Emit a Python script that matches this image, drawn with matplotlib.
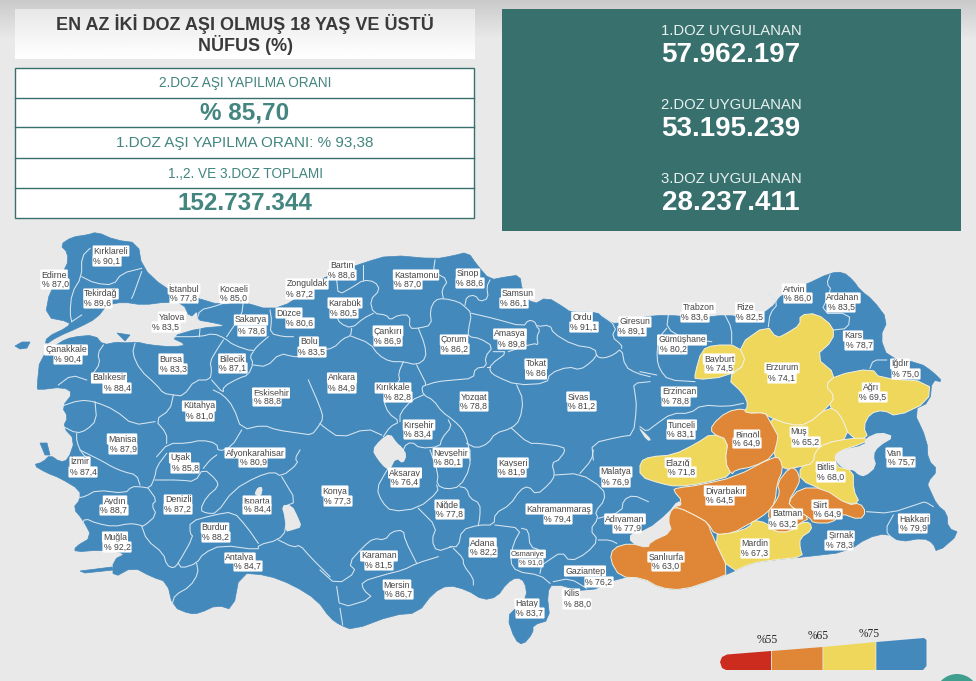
import matplotlib
import numpy as np

matplotlib.use("Agg")
import matplotlib.pyplot as plt  # noqa: E402
from matplotlib.patches import Polygon, Rectangle, Circle  # noqa: E402

plt.rcParams["font.family"] = ["Liberation Sans", "DejaVu Sans"]

# data
provinces = ["Kırklareli", "Edirne", "Tekirdağ", "İstanbul", "Kocaeli", "Zonguldak", "Bartın", "Kastamonu", "Sinop",
             "Samsun", "Yalova", "Sakarya", "Düzce", "Karabük", "Çankırı", "Bolu", "Çorum", "Amasya", "Ordu", "Giresun",
             "Trabzon", "Rize", "Artvin", "Ardahan", "Kars", "Iğdır", "Gümüşhane", "Bayburt", "Erzurum", "Ağrı",
             "Erzincan", "Tunceli", "Bingöl", "Muş", "Bitlis", "Van", "Elazığ", "Malatya", "Tokat", "Yozgat",
             "Sivas", "Ankara", "Kırıkkale", "Kırşehir", "Nevşehir", "Balıkesir", "Çanakkale", "Bursa", "Bilecik",
             "Eskişehir", "Kütahya", "Manisa", "Uşak", "Afyonkarahisar", "İzmir", "Aydın", "Denizli", "Isparta",
             "Burdur", "Muğla", "Antalya", "Konya", "Aksaray", "Niğde", "Kayseri", "Kahramanmaraş", "Adıyaman",
             "Adana", "Osmaniye", "Karaman", "Mersin", "Gaziantep", "Kilis", "Hatay", "Şanlıurfa", "Diyarbakır",
             "Batman", "Siirt", "Mardin", "Şırnak", "Hakkari"]
rates = [90.1, 87.0, 89.6, 77.8, 85.0, 87.2, 88.6, 87.0, 88.6,
         86.1, 83.5, 78.6, 80.6, 80.5, 86.9, 83.5, 86.2, 89.8, 91.1, 89.1,
         83.6, 82.5, 86.0, 83.5, 78.7, 75.0, 80.2, 74.5, 74.1, 69.5,
         78.8, 83.1, 64.9, 65.2, 68.0, 75.7, 71.8, 76.9, 86, 78.8,
         81.2, 84.9, 82.8, 83.4, 80.1, 88.4, 90.4, 83.3, 87.1,
         88.8, 81.0, 87.9, 85.8, 80.9, 87.4, 88.7, 87.2, 84.4,
         88.2, 92.2, 84.7, 77.3, 76.4, 77.8, 81.9, 79.4, 77.9,
         82.2, 91.0, 81.5, 86.7, 76.2, 88.0, 83.7, 63.0, 64.5,
         63.2, 64.9, 67.3, 78.3, 79.9]
limits = [55, 65, 75]
colors = ["#CC2C1E", "#DF8637", "#EFD75B", "#4489BC"]

header_title = "EN AZ İKİ DOZ AŞI OLMUŞ 18 YAŞ VE ÜSTÜ\nNÜFUS (%)"
table_rows = ["2.DOZ AŞI YAPILMA ORANI", "% 85,70", "1.DOZ AŞI YAPILMA ORANI: % 93,38", "1.,2. VE 3.DOZ TOPLAMI", "152.737.344"]
dose_names = ["1.DOZ UYGULANAN", "2.DOZ UYGULANAN", "3.DOZ UYGULANAN"]
dose_totals = ["57.962.197", "53.195.239", "28.237.411"]

# label centres in pixels, name then value
label_pos = [(111, 251, 107, 261), (54, 275, 55, 284), (101, 294, 98, 303), (184, 289, 184, 298), (234, 289, 234, 298),
             (307, 284, 300, 294), (342, 266, 342, 275), (416, 275, 408, 284), (468, 274, 470, 283), (518, 294, 514, 303),
             (172, 317, 166, 327), (251, 320, 252, 331), (289, 313, 300, 323), (345, 303, 344, 313), (388, 331, 388, 341),
             (309, 342, 312, 352), (454, 340, 455, 349), (510, 334, 512, 344), (582, 317, 584, 327), (635, 322, 632, 331),
             (699, 308, 695, 317), (745, 308, 750, 317), (794, 289, 798, 298), (843, 298, 841, 307), (853, 336, 859, 345),
             (900, 364, 906, 374), (682, 340, 673, 349), (719, 359, 719, 368), (782, 368, 782, 378), (871, 388, 873, 397),
             (679, 392, 676, 401), (682, 425, 681, 434), (747, 435, 747, 443), (799, 432, 806, 442), (826, 467, 831, 477),
             (894, 453, 901, 462), (678, 463, 682, 472), (616, 472, 616, 482), (536, 364, 536, 374), (474, 397, 474, 406),
             (578, 397, 582, 406), (342, 378, 342, 388), (393, 388, 398, 397), (419, 425, 418, 434), (451, 453, 448, 462),
             (109, 378, 117, 388), (66, 350, 68, 359), (171, 359, 173, 369), (232, 359, 233, 368), (271, 393, 267, 401),
             (199, 406, 200, 416), (122, 439, 123, 449), (180, 458, 185, 468), (255, 453, 253, 462), (80, 462, 83, 472),
             (115, 501, 114, 510), (178, 500, 178, 509), (257, 501, 257, 509), (215, 528, 216, 537), (115, 537, 117, 547),
             (240, 558, 248, 566), (335, 491, 338, 501), (405, 473, 405, 482), (447, 505, 450, 514), (513, 463, 512, 472),
             (559, 509, 558, 519), (625, 519, 627, 528), (483, 543, 483, 552), (528, 554, 531, 563), (379, 556, 379, 565),
             (397, 585, 399, 594), (585, 571, 599, 582), (571, 594, 577, 604), (527, 604, 530, 613), (666, 557, 666, 566),
             (725, 491, 720, 500), (787, 514, 783, 524), (820, 505, 828, 514), (755, 544, 755, 553), (841, 536, 839, 545),
             (914, 519, 913, 528)]


def z(ox, oy, pts):
    # points read on a 3x crop with its corner at ox, oy
    return [(ox + x / 3, oy + y / 3) for x, y in pts]


def smooth(pts, closed=False):
    # one corner cutting pass, the traced lines are too angular otherwise
    p = np.array(pts, dtype=float)
    if closed:
        nxt = np.roll(p, -1, axis=0)
        out = np.empty((2 * len(p), 2))
        out[0::2] = 0.75 * p + 0.25 * nxt
        out[1::2] = 0.25 * p + 0.75 * nxt
        return out
    a, b = p[:-1], p[1:]
    out = np.empty((2 * len(a), 2))
    out[0::2] = 0.75 * a + 0.25 * b
    out[1::2] = 0.25 * a + 0.75 * b
    return np.vstack([p[0], out, p[-1]])


outline = [(138, 243), (142, 267), (163, 287), (183, 295), (197, 298), (220, 305), (243, 302), (270, 310), (293, 302),
           (310, 285), (330, 275), (363, 263), (390, 255), (435, 259), (452, 256), (468, 252), (477, 265), (490, 280),
           (505, 277), (520, 275), (522, 290), (533, 305), (547, 297), (565, 308), (570, 312), (597, 312), (603, 318),
           (617, 325), (640, 317), (667, 315), (700, 318), (725, 315), (750, 318), (770, 310), (783, 293), (805, 285),
           (830, 273), (843, 272), (853, 280), (860, 290), (873, 300), (888, 320), (880, 337), (888, 358), (920, 363),
           (933, 372), (943, 382), (932, 380), (930, 402), (913, 410), (927, 440), (928, 460), (938, 470), (927, 483),
           (930, 490), (937, 505), (947, 513), (948, 528), (960, 533), (937, 553), (933, 543), (923, 538), (900, 542),
           (887, 533), (867, 538), (847, 552), (803, 557), (773, 560), (752, 563), (730, 573), (713, 580), (683, 590),
           (660, 588), (643, 578), (620, 577), (587, 593), (553, 583), (547, 593), (550, 620), (533, 625), (533, 633),
           (523, 645), (515, 640), (507, 617), (517, 607), (527, 597), (525, 582), (517, 577), (507, 583), (497, 597),
           (483, 600), (467, 590), (448, 585), (433, 593), (418, 613), (393, 615), (353, 630), (340, 625), (330, 618),
           (317, 600), (293, 585), (267, 575), (240, 573), (233, 610), (217, 605), (200, 613), (190, 614), (173, 607),
           (167, 582), (152, 577), (133, 567), (113, 578), (113, 560), (127, 553), (100, 550), (75, 552), (75, 547),
           (92, 537), (83, 520), (73, 508), (80, 500), (80, 490), (60, 478), (47, 473), (33, 465), (43, 462), (50, 455),
           (60, 462), (68, 460), (75, 440), (63, 427), (68, 417), (62, 407), (73, 393), (63, 387), (38, 390), (37, 387),
           (40, 357), (60, 342), (72, 337), (95, 335), (103, 345), (117, 342), (125, 343), (137, 342), (150, 345),
           (173, 347), (187, 345), (170, 337), (200, 328), (228, 326), (210, 322), (197, 320), (198, 310), (190, 318),
           (183, 303), (166, 302), (143, 305), (123, 302), (107, 305), (97, 318), (80, 327), (57, 337), (45, 345),
           (47, 337), (68, 327), (70, 322), (45, 317), (50, 290), (67, 267), (68, 253), (60, 245), (72, 237), (87, 235),
           (97, 232), (115, 240)]
islands = [[(15, 346), (22, 342), (30, 342), (27, 348), (20, 349)],
           [(117, 333), (130, 335), (125, 341)],
           [(40, 443), (47, 443), (50, 455), (45, 455)],
           [(80, 571), (112, 567), (113, 570), (85, 573)]]
lakes = [[(372, 450), (380, 440), (390, 433), (397, 443), (402, 447), (407, 455), (403, 464), (396, 458), (390, 470),
          (385, 468), (378, 460)],
         [(281, 505), (292, 505), (298, 517), (302, 527), (293, 530), (285, 532), (286, 520)],
         [(255, 492), (258, 487), (263, 487), (261, 497), (255, 495)],
         z(810, 420, [(70, 110), (90, 90), (165, 75), (165, 55), (210, 35), (255, 50), (205, 80), (190, 105), (200, 140),
                      (165, 170), (145, 165), (130, 150), (110, 150), (85, 135)]),
         [(630, 533), (647, 530), (668, 513), (678, 500), (683, 505), (672, 508), (668, 520), (672, 532), (650, 542),
          (648, 548), (630, 543)],
         [(638, 427), (643, 431), (652, 440), (647, 441)]]

# provinces below the top class, traced one by one
shapes = {
    "Erzurum": z(640, 270, [(295, 225), (380, 165), (410, 205), (440, 190), (480, 165), (480, 135), (530, 130), (580, 170), (580, 210), (525, 260), (590, 315), (555, 345), (585, 380), (565, 410), (500, 465), (450, 465), (385, 440), (375, 428), (310, 430), (325, 405), (310, 370), (260, 325), (320, 280)]),
    "Bayburt": z(640, 270, [(185, 240), (220, 225), (295, 225), (320, 280), (260, 320), (165, 330), (165, 310)]),
    "Ağrı": z(640, 270, [(590, 315), (695, 295), (720, 325), (870, 335), (865, 395), (770, 440), (730, 420), (690, 430), (670, 470), (685, 505), (630, 505), (600, 430), (565, 410), (585, 380), (555, 345)]),
    "Muş": z(640, 270, [(385, 440), (450, 465), (500, 465), (565, 410), (600, 430), (630, 505), (555, 520), (525, 545), (520, 580), (480, 590), (430, 600), (400, 560), (410, 500)]),
    "Bitlis": z(640, 270, [(525, 545), (555, 520), (630, 505), (685, 505), (670, 520), (590, 545), (585, 590), (640, 600), (640, 660), (660, 700), (610, 700), (550, 660), (480, 630), (480, 590), (520, 580)]),
    "Elazığ": z(640, 270, [(0, 575), (30, 560), (100, 555), (170, 520), (215, 490), (265, 510), (255, 575), (280, 615), (190, 640), (110, 650), (60, 640), (0, 620)]),
    "Bingöl": z(640, 270, [(215, 490), (215, 465), (260, 425), (310, 415), (320, 430), (375, 428), (385, 445), (410, 490), (415, 500), (400, 560), (340, 590), (285, 600), (275, 615), (255, 575), (265, 510)]),
    "Diyarbakır": [(677, 488), (700, 485), (735, 477), (773, 457), (780, 458), (783, 470), (777, 483), (775, 503), (767, 513), (753, 522), (747, 525), (733, 533), (715, 535), (708, 523), (698, 517), (680, 508), (672, 508), (683, 502), (673, 490)],
    "Batman": [(777, 483), (790, 467), (797, 470), (800, 480), (797, 487), (788, 502), (793, 508), (810, 518), (800, 523), (790, 532), (775, 532), (773, 526), (767, 513), (775, 503), (780, 493)],
    "Siirt": [(800, 488), (823, 488), (848, 505), (860, 503), (866, 512), (860, 520), (840, 513), (833, 523), (813, 523), (810, 518), (793, 508), (788, 502)],
    "Mardin": [(712, 535), (733, 533), (750, 527), (753, 520), (767, 523), (775, 532), (790, 532), (800, 523), (810, 522), (812, 530), (800, 538), (800, 548), (803, 557), (773, 560), (752, 563), (730, 573)],
    "Şanlıurfa": [(610, 560), (613, 548), (630, 543), (648, 548), (650, 542), (672, 532), (668, 520), (672, 508), (680, 508), (698, 517), (708, 523), (712, 535), (730, 573), (713, 580), (683, 590), (660, 588), (643, 578), (620, 577)],
}

# the other province borders
borders = [
    z(0, 230, [(270, 55), (245, 80), (245, 140), (215, 190), (210, 250), (215, 275)]),
    z(0, 230, [(245, 140), (285, 160), (340, 165), (365, 130), (425, 115)]),
    z(0, 230, [(425, 125), (400, 195), (395, 205)]),
    z(0, 230, [(215, 275), (245, 255)]),
    z(0, 230, [(310, 345), (293, 370), (300, 400), (280, 430)]),
    z(0, 230, [(175, 465), (215, 435), (260, 450)]),
    z(0, 230, [(405, 340), (397, 370), (420, 420), (470, 465), (490, 490), (520, 495), (550, 498), (585, 450), (630, 450), (635, 420), (630, 395), (650, 360), (670, 330)]),
    z(0, 230, [(520, 320), (600, 320), (640, 310), (675, 325), (700, 345), (760, 365), (770, 350), (805, 320)]),
    z(0, 230, [(600, 295), (598, 320)]),
    z(0, 230, [(635, 450), (670, 490), (670, 470), (715, 445), (745, 435), (760, 400), (750, 380), (760, 365)]),
    z(0, 230, [(730, 215), (725, 255), (700, 290), (680, 320)]),
    z(0, 230, [(590, 270), (600, 240), (640, 230), (670, 220)]),
    z(0, 230, [(810, 240), (815, 270), (810, 310), (850, 320), (880, 320)]),
    z(0, 230, [(760, 405), (800, 410), (840, 370), (880, 380), (900, 380), (960, 370)]),
    z(0, 230, [(925, 450), (960, 530), (970, 565), (955, 590), (935, 615), (900, 610), (830, 600), (790, 585), (725, 600), (700, 530), (670, 495), (640, 480)]),
    z(0, 230, [(725, 600), (695, 650), (655, 665), (650, 640), (605, 630), (560, 640), (505, 640), (470, 680)]),
    z(0, 230, [(520, 495), (510, 540), (465, 570), (500, 610), (500, 640)]),
    z(0, 230, [(465, 575), (400, 585), (345, 540), (285, 515), (240, 510), (180, 530)]),
    z(0, 230, [(285, 515), (290, 570), (260, 600), (230, 610), (190, 590)]),
    z(0, 230, [(230, 610), (230, 635), (245, 670), (270, 690)]),
    z(0, 450, [(240, 0), (270, 15), (310, 35), (335, 50), (370, 65), (410, 75), (420, 105)]),
    z(0, 450, [(500, 10), (470, 50), (465, 80), (450, 115), (420, 110), (395, 110), (375, 130), (290, 120), (255, 140), (235, 143)]),
    z(0, 450, [(445, 115), (470, 150), (455, 165), (470, 195), (430, 230), (420, 225), (390, 220), (340, 230), (290, 220), (255, 205), (245, 225)]),
    z(0, 450, [(425, 228), (440, 270), (490, 310), (500, 345), (520, 355), (535, 340), (580, 260), (570, 250), (570, 215), (640, 195), (700, 185), (740, 230), (775, 280)]),
    z(0, 450, [(465, 90), (540, 90), (585, 95), (610, 55), (650, 90), (655, 110), (620, 140), (600, 180), (620, 190), (650, 190), (700, 120), (770, 80), (820, 65), (845, 80), (895, 40), (885, 25), (900, 0)]),
    z(0, 450, [(610, 55), (630, 30), (650, 15)]),
    z(0, 450, [(535, 340), (545, 355), (590, 340), (610, 310), (665, 285), (775, 300), (775, 285), (835, 270), (860, 240), (850, 170), (890, 155), (845, 80)]),
    z(0, 450, [(590, 340), (595, 370), (570, 410), (525, 435), (517, 460)]),
    z(0, 450, [(835, 270), (880, 292), (900, 285), (930, 320), (990, 380)]),
    z(320, 230, [(50, 150), (55, 195), (100, 170), (130, 150), (165, 155), (180, 180), (150, 210), (160, 250), (200, 255), (210, 270), (235, 255), (270, 255), (268, 295), (295, 295), (335, 285), (330, 240), (345, 210), (370, 205), (415, 215), (435, 230), (455, 250), (445, 300), (445, 320), (480, 325), (520, 350), (495, 380), (500, 410), (465, 415), (460, 445), (400, 450), (350, 455), (320, 465)]),
    z(320, 230, [(130, 105), (130, 150)]),
    z(320, 230, [(160, 250), (130, 265), (95, 295), (60, 280), (50, 260)]),
    z(320, 230, [(0, 360), (40, 355), (70, 325), (92, 318), (95, 295)]),
    z(320, 230, [(92, 318), (150, 340), (175, 375), (210, 395), (250, 395), (290, 405), (318, 385), (315, 345), (295, 295)]),
    z(320, 230, [(345, 90), (340, 125), (385, 150), (365, 180), (370, 205)]),
    z(320, 230, [(435, 225), (440, 200), (465, 195), (480, 215), (505, 205), (500, 170), (510, 150)]),
    z(320, 230, [(455, 250), (520, 265), (610, 290), (625, 270), (645, 275), (650, 290), (690, 285), (700, 310), (760, 345), (825, 355), (830, 380), (850, 385), (880, 375), (905, 355), (915, 410), (950, 430), (990, 440)]),
    z(320, 230, [(840, 250), (890, 290), (875, 320), (905, 345), (905, 355)]),
    z(320, 230, [(290, 405), (305, 435), (320, 465), (305, 470), (310, 495), (340, 510), (365, 545), (400, 570), (430, 600), (445, 640), (450, 690)]),
    z(320, 230, [(250, 395), (235, 430), (240, 455), (190, 510), (205, 550), (240, 575), (210, 590), (190, 620)]),
    z(320, 230, [(310, 495), (275, 510), (240, 550), (240, 575)]),
    z(320, 230, [(520, 365), (565, 365), (510, 405), (510, 425), (530, 440), (590, 465), (680, 460), (690, 430), (745, 410), (780, 420), (815, 395), (830, 375)]),
    z(320, 230, [(565, 365), (640, 340), (655, 345), (650, 320), (660, 300), (650, 290)]),
    z(320, 230, [(500, 410), (510, 410)]),
    z(320, 230, [(590, 465), (610, 510), (600, 570), (575, 595), (525, 610), (505, 640), (470, 655), (440, 640)]),
    z(320, 230, [(990, 455), (940, 460), (945, 490), (950, 530), (940, 615), (900, 620), (815, 640), (820, 690)]),
    z(320, 230, [(385, 570), (395, 590), (365, 625), (360, 650), (300, 655), (275, 635), (250, 650), (250, 690)]),
    z(320, 230, [(185, 615), (140, 595), (60, 625), (10, 590), (0, 580)]),
    z(320, 230, [(575, 595), (625, 640), (660, 640), (730, 650), (735, 665), (715, 690)]),
    z(320, 450, [(715, 30), (695, 40), (705, 75), (690, 100), (650, 135), (625, 108), (600, 120), (570, 165), (525, 190), (522, 225), (475, 225), (425, 240), (415, 290), (390, 290)]),
    z(320, 450, [(450, 0), (450, 55), (420, 110), (380, 118), (350, 105), (355, 70), (330, 0)]),
    z(320, 450, [(420, 110), (440, 115), (450, 145), (480, 160), (480, 200), (475, 225)]),
    z(320, 450, [(350, 105), (355, 125), (295, 175), (215, 185), (185, 155), (170, 115), (195, 70), (205, 55)]),
    z(320, 450, [(295, 175), (350, 230), (335, 270), (350, 305), (395, 290)]),
    z(320, 450, [(355, 320), (290, 340), (250, 360), (190, 375), (125, 395), (130, 420), (160, 445), (60, 475), (50, 410)]),
    z(320, 450, [(0, 360), (50, 405), (110, 365), (85, 340), (130, 290), (160, 265), (195, 270), (215, 245), (250, 240), (255, 270), (290, 340)]),
    z(320, 450, [(60, 475), (68, 525)]),
    z(320, 450, [(400, 295), (430, 325), (430, 345), (460, 385), (460, 405)]),
    z(320, 450, [(525, 225), (605, 235), (580, 280), (570, 335), (590, 365), (660, 375), (690, 400)]),
    z(320, 450, [(605, 235), (625, 240), (630, 290), (660, 300), (670, 320), (660, 370)]),
    z(320, 450, [(660, 350), (680, 335), (725, 305), (750, 335), (800, 310), (835, 270), (810, 240), (835, 205), (825, 185), (855, 150), (850, 115), (780, 70), (705, 75)]),
    z(320, 450, [(780, 70), (815, 30), (820, 0)]),
    z(320, 450, [(835, 205), (905, 185), (910, 150), (940, 135), (985, 155)]),
    z(320, 450, [(835, 270), (870, 270), (890, 280)]),
    z(320, 450, [(700, 395), (750, 385), (800, 415)]),
    z(640, 270, [(385, 70), (415, 100), (390, 130), (385, 170)]),
    z(640, 270, [(255, 135), (275, 175), (275, 220)]),
    z(640, 270, [(85, 135), (80, 175), (130, 205), (215, 215)]),
    z(640, 270, [(80, 175), (55, 205), (50, 265), (60, 300), (85, 330), (165, 335)]),
    z(640, 270, [(50, 315), (0, 305)]),
    z(640, 270, [(570, 15), (560, 40), (575, 60), (540, 130), (630, 130), (625, 175), (580, 180)]),
    z(640, 270, [(690, 295), (700, 270), (740, 270)]),
    z(640, 270, [(310, 400), (260, 410), (185, 405), (150, 430), (95, 430), (45, 465), (20, 485), (0, 470)]),
    z(600, 480, [(800, 95), (870, 100), (960, 70), (975, 65), (1000, 80)]),
    z(600, 480, [(880, 105), (855, 150), (880, 180)]),
]


def class_color(rate):
    return colors[np.searchsorted(limits, rate, side="right")]


rate_of = dict(zip(provinces, rates))
LAND = colors[-1]
BG = "#E9E9E9"
TEAL = "#38706E"
TEAL_TEXT = "#43857F"

fig = plt.figure(figsize=(9.76, 6.81), dpi=100)
ax = fig.add_axes([0, 0, 1, 1])

# page and header backgrounds
page = np.linspace(0.79, 0.914, 40)[:, None]
ax.imshow(page, extent=(0, 976, 40, 0), cmap="gray", vmin=0, vmax=1, aspect="auto", zorder=0)
ax.add_patch(Rectangle((0, 40), 976, 641, fc=BG, ec="none", zorder=0))
head = np.linspace(0.91, 1.0, 30)[:, None]
ax.imshow(head, extent=(15, 475, 59, 9), cmap="gray", vmin=0, vmax=1, aspect="auto", zorder=1)
ax.text(245, 34.5, header_title, ha="center", va="center", fontsize=13, fontweight="bold", color="#3A3A3A",
        linespacing=1.1, zorder=2)

# table at the left
row_edges = [68, 98, 127, 158, 188, 218]
row_sizes = [9.8, 17.5, 11, 9.8, 17.5]
ax.add_patch(Rectangle((15, 68), 459, 150, fc="white", ec=TEAL, lw=1, zorder=1))
for y in row_edges[1:-1]:
    ax.plot([15, 474], [y, y], color=TEAL, lw=1, zorder=2)
for i, txt in enumerate(table_rows):
    ax.text(245, (row_edges[i] + row_edges[i + 1]) / 2 + 0.5, txt, ha="center", va="center", fontsize=row_sizes[i],
            fontweight="bold" if row_sizes[i] > 15 else "normal", color=TEAL_TEXT, zorder=3)

# dose panel at the right
ax.add_patch(Rectangle((502, 9), 459, 222, fc=TEAL, ec="none", zorder=1))
for i in range(3):
    ax.text(731, 31 + i * 74, dose_names[i], ha="center", va="center", fontsize=10.7, color="#E8F0EF", zorder=2)
    ax.text(731, 55 + i * 74, dose_totals[i], ha="center", va="center", fontsize=20, fontweight="bold", color="white",
            zorder=2)

# map
LINE = "#D7E6F0"
ax.add_patch(Polygon(smooth(outline, closed=True), closed=True, fc=LAND, ec=LAND, lw=0.5, zorder=3))
for isl in islands:
    ax.add_patch(Polygon(isl, closed=True, fc=LAND, ec=LAND, lw=0.5, zorder=3))
for line in borders:
    xy = smooth(line)
    ax.plot(xy[:, 0], xy[:, 1], color=LINE, lw=0.75, solid_joinstyle="round", zorder=4)
for name, shape in shapes.items():
    ax.add_patch(Polygon(smooth(shape, closed=True), closed=True, fc=class_color(rate_of[name]), ec="#F3F0DC", lw=0.7,
                         zorder=5))
for lake in lakes:
    ax.add_patch(Polygon(smooth(lake, closed=True), closed=True, fc=BG, ec="none", zorder=6))

label_box = dict(boxstyle="round,pad=0.12", fc="white", ec="none")
for name, rate, (nx, ny, vx, vy) in zip(provinces, rates, label_pos):
    value_txt = f"% {rate}".replace(".", ",")
    size = 5.4 if name == "Osmaniye" else 6.3
    ax.text(nx, ny, name, ha="center", va="center", fontsize=size, color="#444444", bbox=label_box, zorder=7)
    ax.text(vx, vy, value_txt, ha="center", va="center", fontsize=size, color="#444444", bbox=label_box, zorder=7)

# legend wedge
ax.add_patch(Polygon([(726, 670), (722, 668), (720, 662), (722, 657), (727, 654.5), (771, 651), (771, 670)],
                     closed=True, fc=colors[0], ec="none", zorder=3))
ax.add_patch(Polygon([(771.8, 670), (771.8, 651), (822.5, 647), (822.5, 670)], closed=True, fc=colors[1], ec="none", zorder=3))
ax.add_patch(Polygon([(823.3, 670), (823.3, 647), (875.5, 642), (875.5, 670)], closed=True, fc=colors[2], ec="none", zorder=3))
ax.add_patch(Polygon([(876.3, 670), (876.3, 642), (924, 638), (926.5, 640), (926.5, 666), (923, 670)], closed=True,
                     fc=colors[3], ec="none", zorder=3))
for lim, x, y in zip(limits, [767, 818, 869], [640, 636, 634]):
    ax.text(x, y, f"%{lim}", ha="center", va="center", fontsize=8.3, family="Liberation Serif", color="#222222", zorder=4)

ax.add_patch(Circle((957, 696), 22, fc="#3F9E8E", ec="none", zorder=3))

ax.set_xlim(0, 976)
ax.set_ylim(681, 0)
ax.axis("off")
fig.savefig("out.png", dpi=100)
